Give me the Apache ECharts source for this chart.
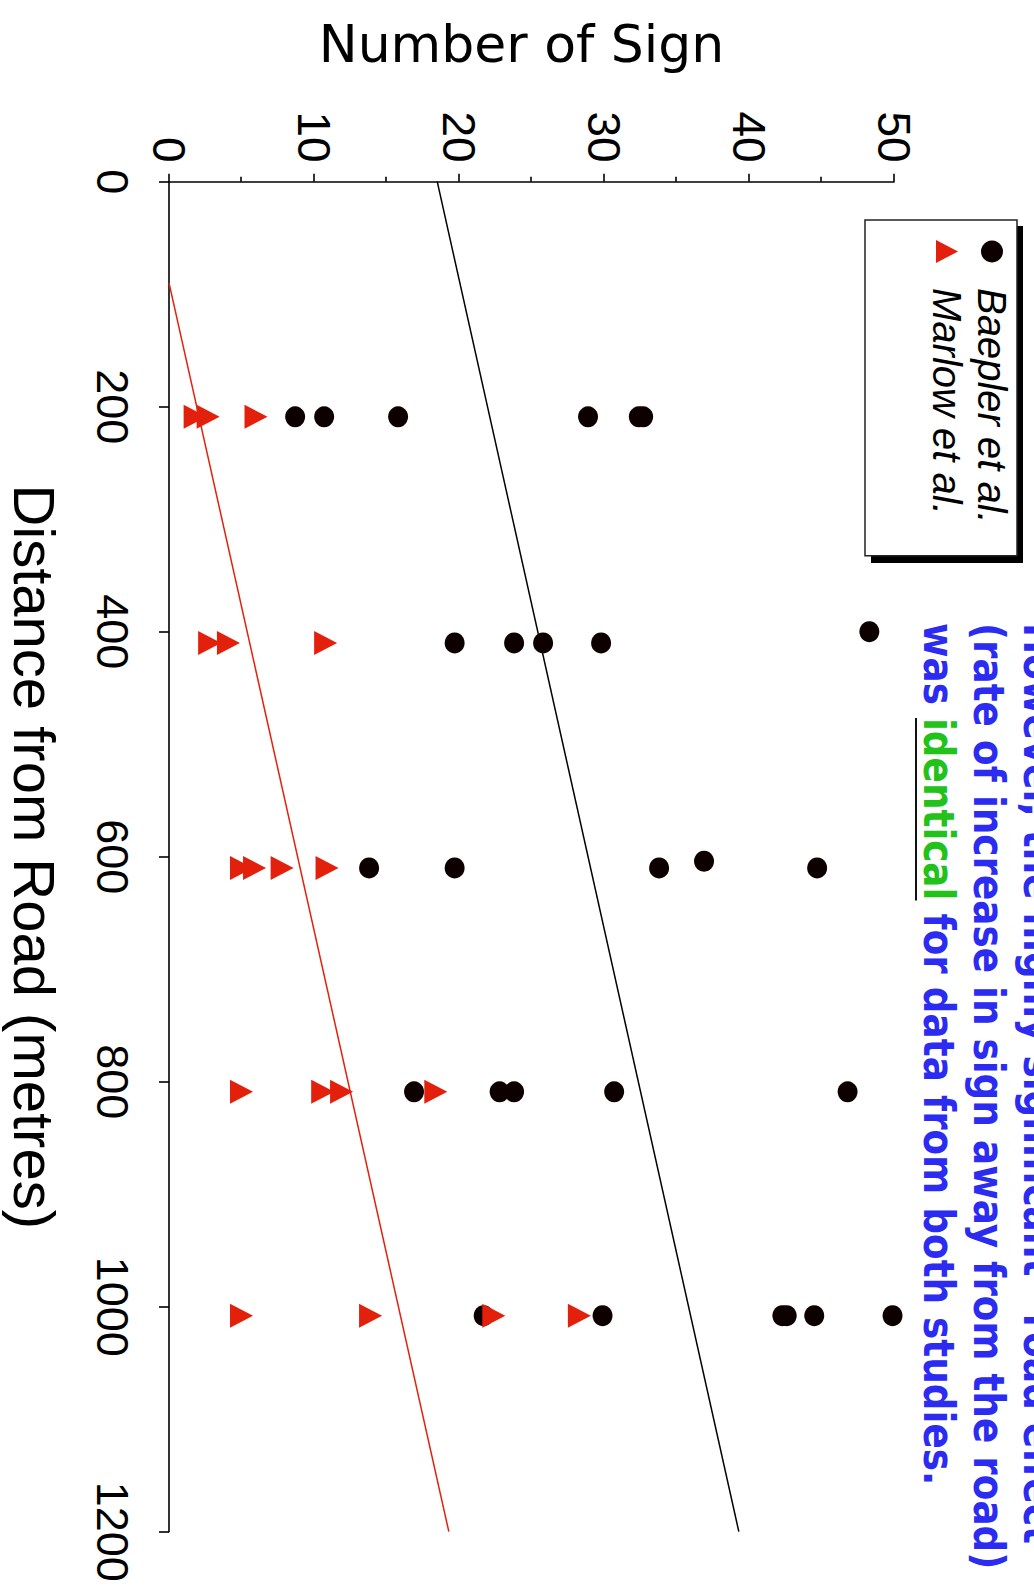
<!DOCTYPE html>
<html><head><meta charset="utf-8">
<script src="https://cdn.jsdelivr.net/npm/echarts@6/dist/echarts.min.js"></script>
<style>
html,body{margin:0;padding:0;background:#fff;width:1034px;height:1591px;overflow:hidden;}
#chart{position:absolute;left:0;top:0;width:1591px;height:1034px;transform-origin:0 0;transform:translate(1034px,0) rotate(90deg);}
</style></head><body><div id="chart"></div>
<script>
// ---- data ----
const distanceTicks = [0, 200, 400, 600, 800, 1000, 1200];
const signTicks = [0, 10, 20, 30, 40, 50];
const seriesNames = ['Baepler et al.', 'Marlow et al.'];

const baeplerDistance = [209, 209, 209, 209, 209, 209,
                         400, 410, 410, 410, 410,
                         610, 610, 610, 604, 610,
                         809, 809, 809, 809, 809,
                         1008, 1008, 1008, 1008, 1008, 1008];
const baeplerSigns    = [8.7, 10.7, 15.8, 28.9, 32.4, 32.7,
                         48.3, 19.7, 23.8, 25.8, 29.8,
                         13.8, 19.7, 33.8, 36.9, 44.7,
                         16.9, 22.8, 23.8, 30.7, 46.8,
                         21.7, 29.9, 42.3, 42.6, 44.5, 49.9];

const marlowDistance = [209, 209, 209,
                        410, 410, 410,
                        610, 610, 610, 610,
                        809, 809, 809, 809,
                        1008, 1008, 1008, 1008];
const marlowSigns    = [1.8, 2.7, 6.0,
                        2.8, 4.1, 10.8,
                        5.0, 5.9, 7.8, 10.9,
                        5.0, 10.6, 11.9, 18.4,
                        5.0, 13.9, 22.4, 28.3];

const baeplerFitDistance = [0, 1200];
const baeplerFitSigns    = [18.5, 39.3];
const marlowFitDistance  = [90, 1200];
const marlowFitSigns     = [0, 19.3];

const noteLines = ['However, the highly significant \u201Croad effect\u201D',
                   '(rate of increase in sign away from the road)'];
const noteLine3 = ['was ', 'identical', ' for data from both studies.'];

// ---- chart ----
function pairs(xs, ys) { return xs.map((x, i) => [x, ys[i]]); }

const chart = echarts.init(document.getElementById('chart'), null, {renderer: 'svg', width: 1591, height: 1034});

const SX = 0.89;
const NOTE_FONT = 'bold 42px "DejaVu Sans"';
const ctx = document.createElement('canvas').getContext('2d');
ctx.font = NOTE_FONT;
const wasW = ctx.measureText(noteLine3[0]).width * SX;
const idW = ctx.measureText(noteLine3[1]).width * SX;
const NOTE_X = 623;

const blueStyle = {
  fontFamily: 'DejaVu Sans', fontWeight: 'bold', fontSize: 42, fill: '#2b2bf2',
  verticalAlign: 'middle', align: 'left',
  textShadowColor: 'rgba(70,70,90,0.55)', textShadowOffsetX: 0, textShadowOffsetY: 2, textShadowBlur: 0
};

const black = '#0d0000', red = '#e3200b';
const axisLineStyle = {color: '#000', width: 1.6};

chart.setOption({
  animation: false,
  backgroundColor: '#fff',
  grid: {left: 181.7, right: 59.3, top: 140, bottom: 167, containLabel: false},
  xAxis: {
    type: 'value',
    min: distanceTicks[0], max: distanceTicks[distanceTicks.length - 1],
    interval: distanceTicks[1] - distanceTicks[0],
    name: 'Distance from Road (metres)', nameLocation: 'middle', nameGap: 106,
    nameTextStyle: {fontFamily: 'Liberation Sans', fontSize: 58, color: '#000'},
    axisLine: {show: true, onZero: false, lineStyle: axisLineStyle},
    axisTick: {show: true, length: 10, lineStyle: axisLineStyle},
    axisLabel: {margin: 34, fontFamily: 'Liberation Sans', fontSize: 45, color: '#000',
                formatter: v => String(v)},
    splitLine: {show: false}
  },
  yAxis: {
    type: 'value',
    min: signTicks[0], max: signTicks[signTicks.length - 1],
    interval: signTicks[1] - signTicks[0],
    name: 'Number of Sign', nameLocation: 'middle', nameGap: 112, nameRotate: 90,
    nameTextStyle: {fontFamily: 'DejaVu Sans', fontSize: 52, color: '#000', padding: [0, 20, 0, 0]},
    axisLine: {show: true, onZero: false, lineStyle: axisLineStyle},
    axisTick: {show: true, length: 8, lineStyle: axisLineStyle},
    minorTick: {show: true, splitNumber: 2, length: 5, lineStyle: axisLineStyle},
    axisLabel: {margin: 19, fontFamily: 'Liberation Sans', fontSize: 46, color: '#000',
                formatter: v => String(v)},
    splitLine: {show: false}
  },
  legend: {
    data: seriesNames, orient: 'vertical', left: 220, top: 17,
    padding: [3, 32, 60, 20], itemGap: 1, itemWidth: 23, itemHeight: 22,
    backgroundColor: '#fff', borderColor: '#222', borderWidth: 1.5, z: 10,
    selectedMode: false,
    formatter: name => '{s|}{t|' + name + '}',
    textStyle: {
      fontFamily: 'Liberation Sans', fontStyle: 'italic', fontSize: 40, color: '#000', lineHeight: 44,
      rich: {
        s: {width: 20, height: 44},
        t: {fontFamily: 'Liberation Sans', fontStyle: 'italic', fontSize: 40, color: '#000', lineHeight: 44}
      }
    }
  },
  graphic: [
    {type: 'rect', z: 1, shape: {x: 226, y: 11, width: 337, height: 152}, style: {fill: '#000'}},
    {type: 'text', z: 2, x: NOTE_X, y: -4.5, scaleX: SX, style: Object.assign({text: noteLines[0]}, blueStyle)},
    {type: 'text', z: 2, x: NOTE_X, y: 45.5, scaleX: SX, style: Object.assign({text: noteLines[1]}, blueStyle)},
    {type: 'text', z: 2, x: NOTE_X, y: 95.5, scaleX: SX, style: Object.assign({
        text: '{b|' + noteLine3[0] + '}{g|' + noteLine3[1] + '}{b|' + noteLine3[2] + '}',
        rich: {
          b: {fontFamily: 'DejaVu Sans', fontWeight: 'bold', fontSize: 42, fill: '#2b2bf2',
              textShadowColor: 'rgba(70,70,90,0.55)', textShadowOffsetY: 2},
          g: {fontFamily: 'DejaVu Sans', fontWeight: 'bold', fontSize: 42, fill: '#22c21a',
              textShadowColor: 'rgba(70,90,70,0.45)', textShadowOffsetY: 2}
        }
      }, {fontFamily: 'DejaVu Sans', fontWeight: 'bold', fontSize: 42, verticalAlign: 'middle', align: 'left'})},
    {type: 'line', z: 2, shape: {x1: NOTE_X + wasW, y1: 118, x2: NOTE_X + wasW + idW, y2: 118},
     style: {stroke: '#111', lineWidth: 2}}
  ],
  series: [
    {name: 'Baepler fit', type: 'line', data: pairs(baeplerFitDistance, baeplerFitSigns),
     symbol: 'none', showSymbol: false, silent: true, lineStyle: {color: '#000', width: 1.5}, z: 2},
    {name: 'Marlow fit', type: 'line', data: pairs(marlowFitDistance, marlowFitSigns),
     symbol: 'none', showSymbol: false, silent: true, lineStyle: {color: red, width: 1.5}, z: 2},
    {name: seriesNames[0], type: 'scatter', symbol: 'circle', symbolSize: [21, 20], clip: false,
     itemStyle: {color: black, opacity: 1}, data: pairs(baeplerDistance, baeplerSigns), z: 3},
    {name: seriesNames[1], type: 'scatter', symbol: 'triangle', symbolSize: [24, 23], clip: false,
     itemStyle: {color: red, opacity: 1}, data: pairs(marlowDistance, marlowSigns), z: 4}
  ]
});
</script></body></html>
